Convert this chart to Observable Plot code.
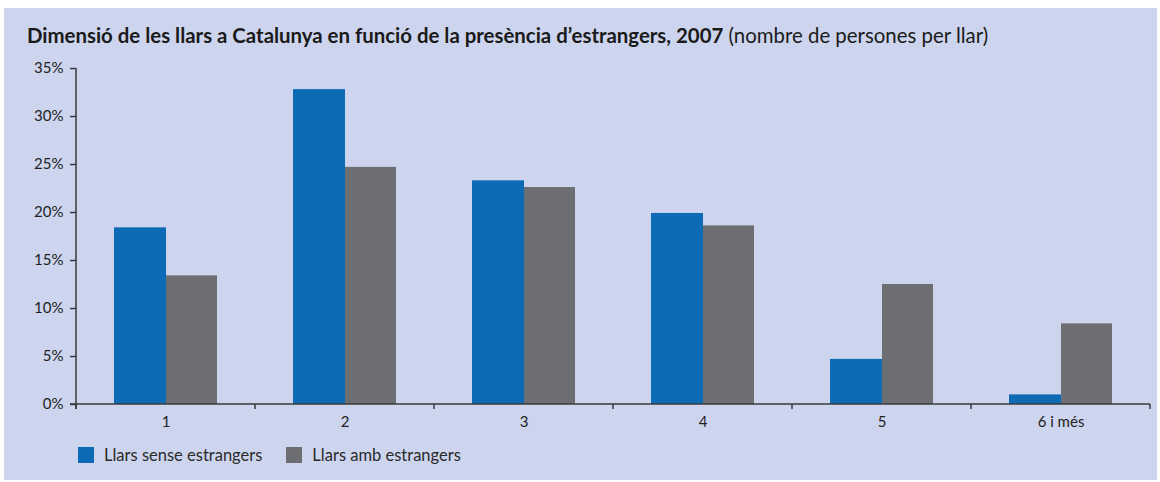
<!DOCTYPE html>
<html>
<head>
<meta charset="utf-8">
<script src="https://cdn.jsdelivr.net/npm/d3@7"></script>
<script src="https://cdn.jsdelivr.net/npm/@observablehq/plot@0.6"></script>
<style>
  html, body { margin: 0; padding: 0; background: #fff; }
  #panel { position: absolute; left: 4px; top: 8px; width: 1153px; height: 472px; background: #CDD5EE; font-family: Lato, "Open Sans", sans-serif; }
  #title { position: absolute; left: 23px; top: 15px; font-size: 20.4px; color: #1a1a1a; white-space: nowrap; }
  #title b { font-weight: 700; }
  #chart { position: absolute; left: 0; top: 48px; }
  #legend { position: absolute; left: 74px; top: 437px; display: flex; align-items: center; font-size: 16.5px; color: #2a2a2a; }
  .sw { width: 16px; height: 16px; display: inline-block; margin-right: 10px; }
  .item { display: flex; align-items: center; margin-right: 24px; }
</style>
</head>
<body>
<div id="panel">
  <div id="title"><b>Dimensió de les llars a Catalunya en funció de la presència d’estrangers, 2007</b> (nombre de persones per llar)</div>
  <div id="chart"></div>
  <div id="legend"></div>
</div>
<script>
const categories = ["1", "2", "3", "4", "5", "6 i més"];
const seriesNames = ["Llars sense estrangers", "Llars amb estrangers"];
const senseEstrangers = [18.4, 32.8, 23.3, 19.9, 4.7, 1.0];
const ambEstrangers = [13.4, 24.7, 22.6, 18.6, 12.5, 8.4];
const yTicks = [0, 5, 10, 15, 20, 25, 30, 35];
const colors = ["#0D6BB6", "#6D6E71"];

const sense = categories.map((c, i) => ({cat: c, value: senseEstrangers[i]}));
const amb = categories.map((c, i) => ({cat: c, value: ambEstrangers[i]}));

function axes(index, scales, values, dimensions) {
  const {x, y} = scales;
  const g = d3.create("svg:g").attr("stroke", "#3a3a3c").attr("stroke-width", 1.5).attr("fill", "none");
  const left = dimensions.marginLeft;
  const right = dimensions.width - dimensions.marginRight;
  const y0 = y(0);
  g.append("line").attr("x1", left).attr("x2", left).attr("y1", y(35)).attr("y2", y0 + 5);
  g.append("line").attr("x1", left - 6).attr("x2", right).attr("y1", y0).attr("y2", y0);
  const step = x(categories[1]) - x(categories[0]);
  const edges = categories.map(c => x(c)).concat([x(categories[categories.length - 1]) + step]);
  edges.forEach(e => g.append("line").attr("x1", e).attr("x2", e).attr("y1", y0).attr("y2", y0 + 5));
  return g.node();
}

const plot = Plot.plot({
  width: 1153,
  height: 380,
  marginLeft: 72,
  marginRight: 7,
  marginTop: 12,
  marginBottom: 32,
  style: {background: "transparent", fontFamily: "Lato, 'Open Sans', sans-serif", fontSize: "15px", color: "#222"},
  x: {domain: categories, paddingInner: 0, paddingOuter: 0, label: null},
  y: {domain: [0, 35], label: null},
  marks: [
    Plot.barY(sense, {x: "cat", y: "value", fill: colors[0], insetLeft: 38, insetRight: 89}),
    Plot.barY(amb, {x: "cat", y: "value", fill: colors[1], insetLeft: 90, insetRight: 38}),
    Plot.axisY({ticks: yTicks, tickSize: 6, tickPadding: 7, tickFormat: d => d + "%", stroke: "#3a3a3c", strokeWidth: 1.5, fill: "#222", fontSize: 15}),
    Plot.axisX({tickSize: 0, tickPadding: 12, fill: "#222", fontSize: 15}),
    axes
  ]
});
document.getElementById("chart").appendChild(plot);

const legend = document.getElementById("legend");
seriesNames.forEach((name, i) => {
  const item = document.createElement("div");
  item.className = "item";
  const sw = document.createElement("span");
  sw.className = "sw";
  sw.style.background = colors[i];
  item.appendChild(sw);
  item.appendChild(document.createTextNode(name));
  legend.appendChild(item);
});
</script>
</body>
</html>
